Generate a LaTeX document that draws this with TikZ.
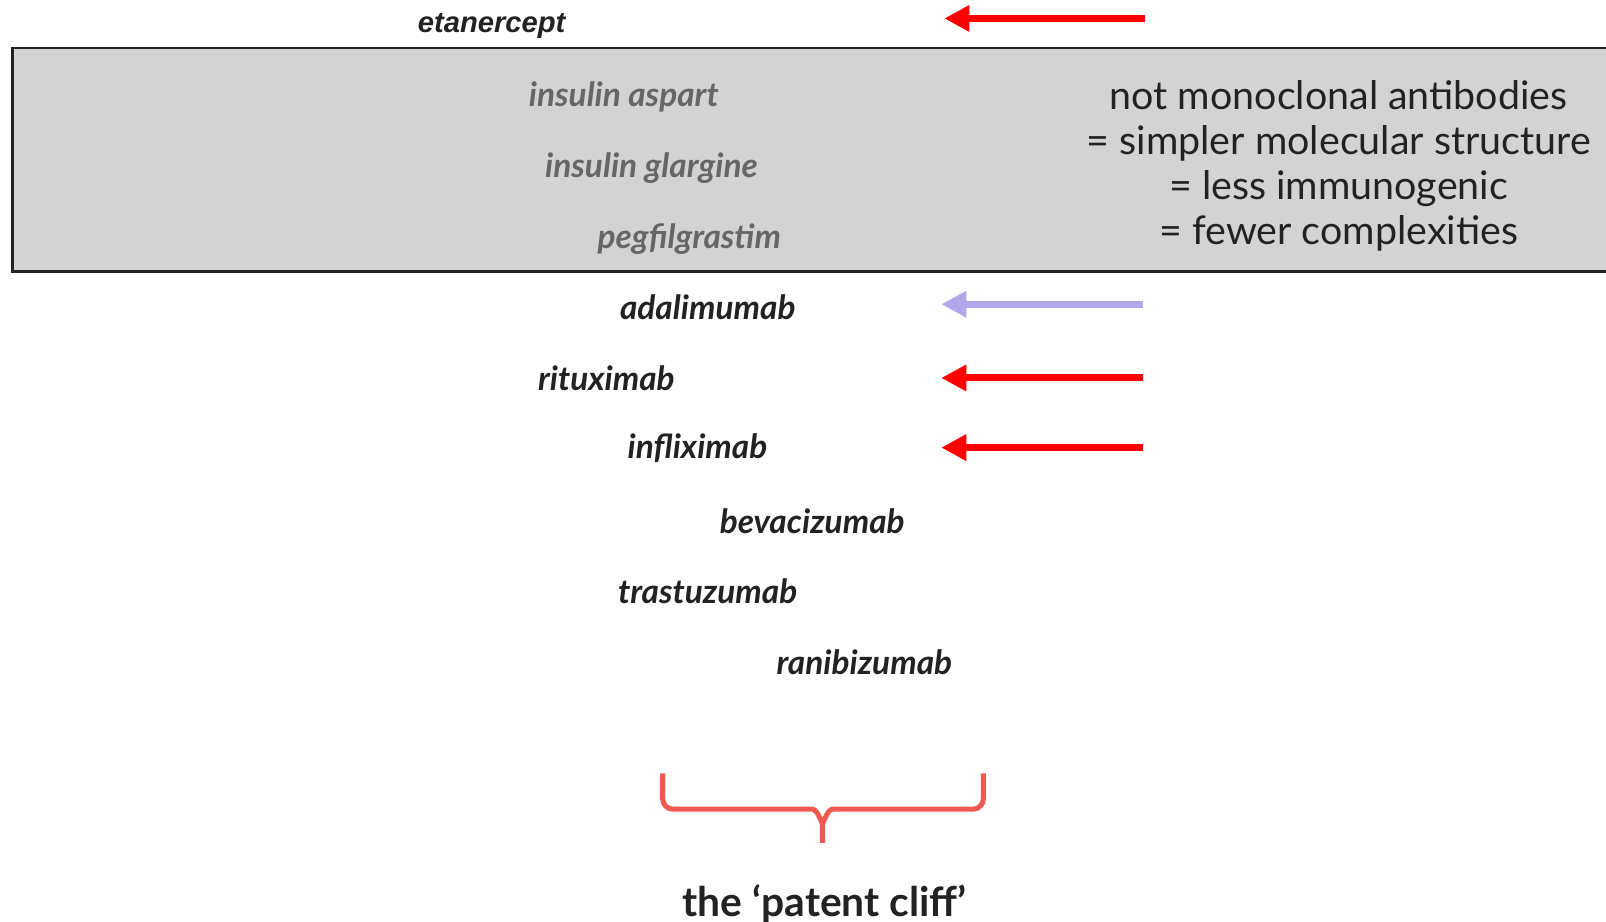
\documentclass[tikz,border=0pt]{standalone}
\usepackage{fontspec}
\setmainfont{Lato}
\newfontfamily\arialfont{Liberation Sans}
\usetikzlibrary{arrows.meta,positioning,calc}
\definecolor{darktext}{HTML}{222222}
\definecolor{graytext}{HTML}{666666}
\definecolor{boxgray}{HTML}{D3D3D3}
\definecolor{cliffred}{HTML}{F0594F}
\definecolor{lavender}{HTML}{B0A8E8}

\begin{document}
\begin{tikzpicture} [x=0.01024cm, y=-0.01024cm,
  drug/.style={font=\bfseries\itshape\fontsize{9.5}{11}\selectfont, text=darktext},
  old/.style={font=\bfseries\itshape\fontsize{9.5}{11}\selectfont, text=graytext},
  cliff/.style={-{Triangle[length=0.25cm,width=0.25cm]}, line width=0.07cm}]
\useasboundingbox (0,0) rectangle (1568,900);
\draw[fill=boxgray, draw=darktext, line width=0.025cm] (12,47) rectangle (1590,265);
\node[font=\arialfont\bfseries\itshape\fontsize{8.3}{10}\selectfont, text=darktext] (etan) at (480,25) {etanercept};
\node[old] (asp) at (609,95) {insulin aspart};
\node[old] (glar) at (636,164) {insulin glargine};
\node[old] (peg) at (673,233) {pegfilgrastim};
\node[drug] (ada) at (691,300) {adalimumab};
\node[drug] (rit) at (592,369) {rituximab};
\node[drug] (inf) at (681,438) {infliximab};
\node[drug] (bev) at (793,509) {bevacizumab};
\node[drug] (tra) at (691,577) {trastuzumab};
\node[drug] (ran) at (844,647) {ranibizumab};
\node[align=center, text=darktext, font=\fontsize{11.2}{12.8}\selectfont] (note) at (1307,162)
  {not monoclonal antibodies\\= simpler molecular structure\\= less immunogenic\\= fewer complexities};
\node[text=darktext, font=\bfseries\fontsize{11.6}{14}\selectfont] (label) at (805,883) {the `patent cliff'};
\coordinate (e1) at (1118,18); \coordinate (e2) at (922,18);
\coordinate (a1) at (1116,297); \coordinate (a2) at (919,297);
\coordinate (r1) at (1116,369); \coordinate (r2) at (919,369);
\coordinate (i1) at (1116,437); \coordinate (i2) at (919,437);
\draw[cliff, red] (e1) -- (e2);
\draw[cliff, lavender] (a1) -- (a2);
\draw[cliff, red] (r1) -- (r2);
\draw[cliff, red] (i1) -- (i2);
% brace
\draw[cliffred, line width=0.05cm] (647,755) -- (647,780) to[out=-90,in=180] (657,790) -- (793,790)
  to[out=0,in=-90] (803,802) -- (803,823)
  (803,802) to[out=-90,in=180] (813,790) -- (950,790) to[out=0,in=-90] (960,780) -- (960,755);
\end{tikzpicture}
\end{document}
